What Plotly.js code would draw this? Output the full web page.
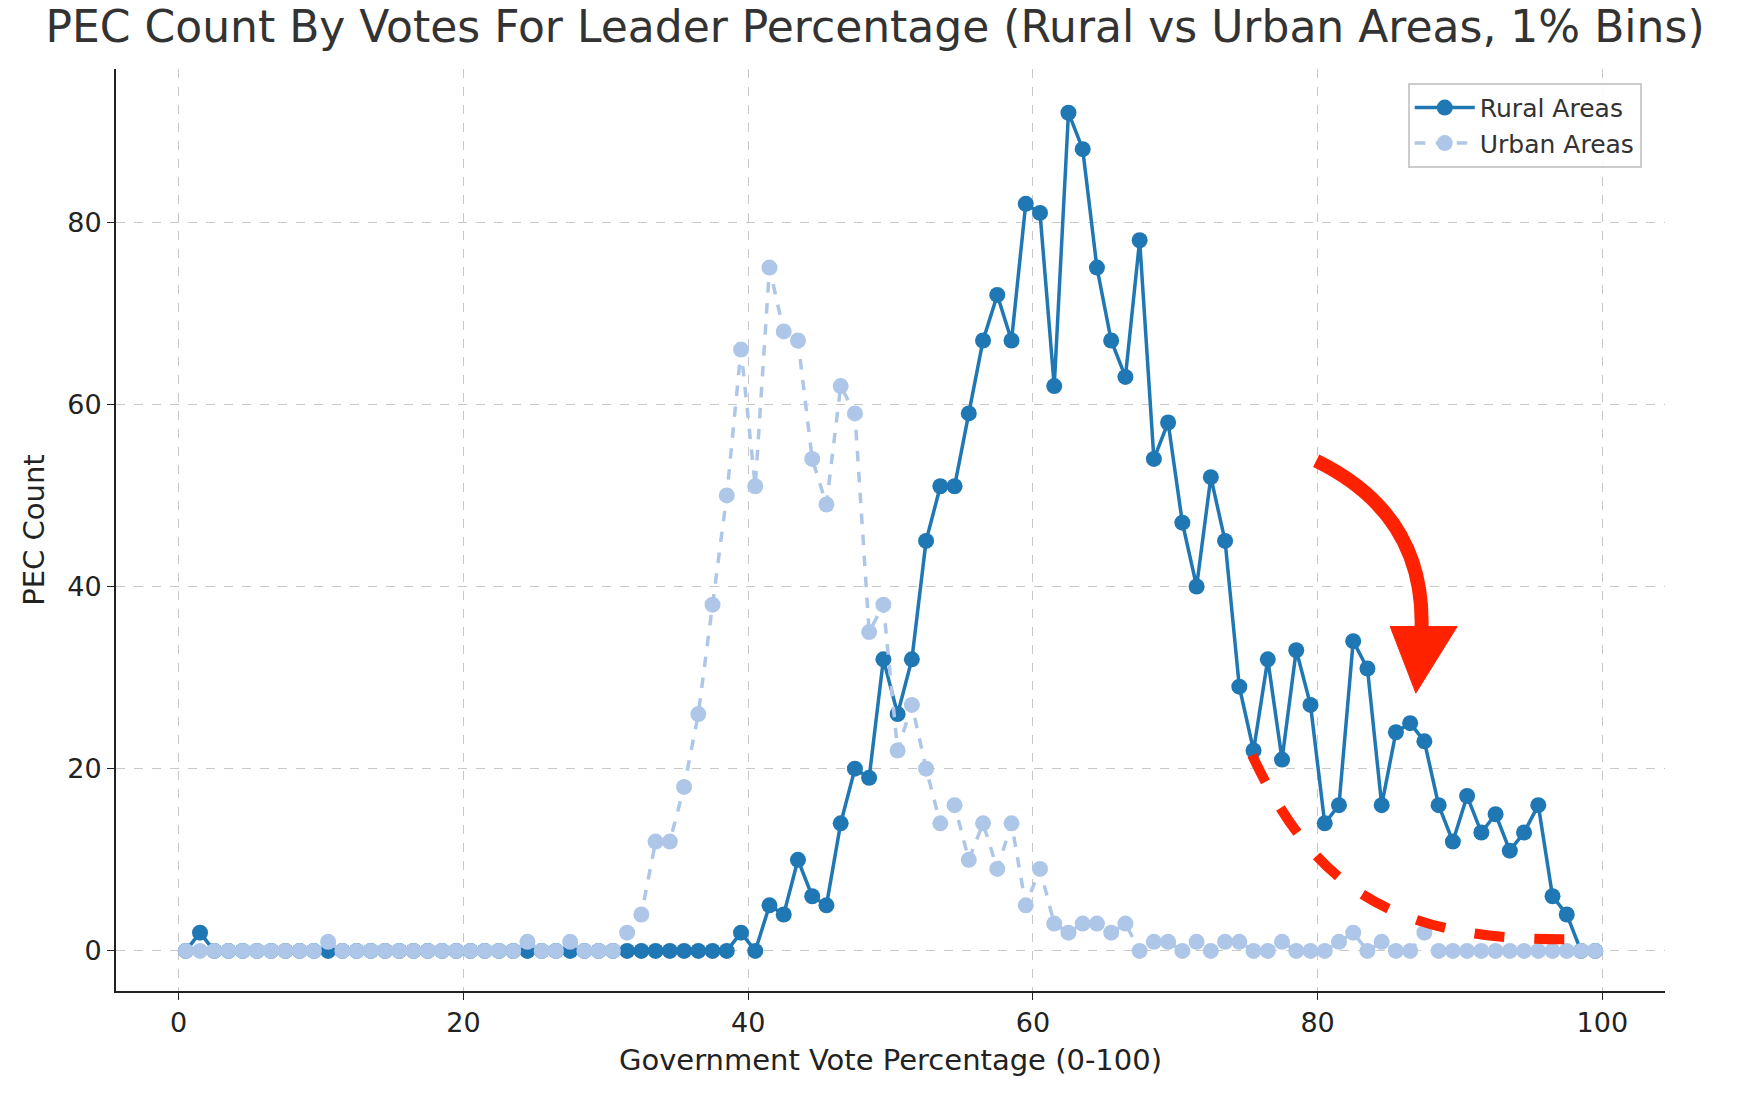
<!DOCTYPE html>
<html>
<head>
<meta charset="utf-8">
<script src="https://cdn.plot.ly/plotly-3.0.1.min.js"></script>
<style>body{margin:0;background:#fff}#chart{width:1750px;height:1101px}</style>
</head>
<body>
<div id="chart"></div>
<script>
// bin centres 0.5 .. 99.5
const bins = Array.from({length: 100}, (_, i) => i + 0.5);

const rural = [
  0,2,0,0,0,0,0,0,0,0, 0,0,0,0,0,0,0,0,0,0,
  0,0,0,0,0,0,0,0,0,0, 0,0,0,0,0,0,0,0,0,2,
  0,5,4,10,6,5,14,20,19,32, 26,32,45,51,51,59,67,72,67,82,
  81,62,92,88,75,67,63,78,54,58, 47,40,52,45,29,22,32,21,33,27,
  14,16,34,31,16,24,25,23,16,12, 17,13,15,11,13,16,6,4,0,0
];
const urban = [
  0,0,0,0,0,0,0,0,0,0, 1,0,0,0,0,0,0,0,0,0,
  0,0,0,0,1,0,0,1,0,0, 0,2,4,12,12,18,26,38,50,66,
  51,75,68,67,54,49,62,59,35,38, 22,27,20,14,16,10,14,9,14,5,
  9,3,2,3,3,2,3,0,1,1, 0,1,0,1,1,0,0,1,0,0,
  0,1,2,0,1,0,0,2,0,0, 0,0,0,0,0,0,0,0,0,0
];

const font = 'DejaVu Sans, sans-serif';

const traces = [
  {
    x: bins, y: rural, name: 'Rural Areas', type: 'scatter', mode: 'lines+markers',
    line: {color: '#1f77b4', width: 3.5}, marker: {color: '#1f77b4', size: 16}
  },
  {
    x: bins, y: urban, name: 'Urban Areas', type: 'scatter', mode: 'lines+markers',
    line: {color: '#aec7e8', width: 3.5, dash: 'dash'}, marker: {color: '#aec7e8', size: 16}
  }
];

const layout = {
  width: 1750, height: 1101,
  margin: {l: 116, r: 85, t: 69, b: 110},
  paper_bgcolor: '#fff', plot_bgcolor: '#fff',
  font: {family: font, color: '#222'},
  title: {
    text: 'PEC Count By Votes For Leader Percentage (Rural vs Urban Areas, 1% Bins)',
    font: {family: font, size: 44, color: '#333'},
    x: 0.5, xanchor: 'center', y: 0.99, yanchor: 'top'
  },
  xaxis: {
    range: [-4.4, 104.4], tickvals: [0, 20, 40, 60, 80, 100],
    showgrid: true, gridcolor: '#c8c8c8', griddash: 'dash', gridwidth: 1,
    zeroline: false, showline: true, linecolor: '#222', linewidth: 2,
    ticks: 'outside', ticklen: 7, tickcolor: '#222',
    tickfont: {size: 27, color: '#222'},
    title: {text: 'Government Vote Percentage (0-100)', font: {size: 29, color: '#222'}, standoff: 12}
  },
  yaxis: {
    range: [-4.4, 96.8], tickvals: [0, 20, 40, 60, 80],
    showgrid: true, gridcolor: '#c8c8c8', griddash: 'dash', gridwidth: 1,
    zeroline: false, showline: true, linecolor: '#222', linewidth: 2,
    ticks: 'outside', ticklen: 7, tickcolor: '#222',
    tickfont: {size: 27, color: '#222'},
    title: {text: 'PEC Count', font: {size: 29, color: '#222'}, standoff: 14}
  },
  legend: {
    x: 0.985, xanchor: 'right', y: 0.985, yanchor: 'top',
    bgcolor: 'rgba(255,255,255,0.9)', bordercolor: '#ccc', borderwidth: 2,
    font: {size: 25, color: '#333'}, itemwidth: 60, tracegroupgap: 8
  },
  shapes: [
    // curved red arrow
    {type: 'path', path: 'M 79.9,53.8 Q 87.5,48 87.3,35.5', line: {color: '#ff2200', width: 14}, layer: 'above'},
    {type: 'path', path: 'M 85.1,35.6 L 89.8,35.6 L 86.9,28.3 Z', fillcolor: '#ff2200', line: {color: '#ff2200', width: 1}, layer: 'above'},
    // dashed red curve
    {type: 'path', path: 'M 75.4,21.5 C 80,6 86,0.8 98.8,1.3', line: {color: '#ff2200', width: 10, dash: 'dash'}, layer: 'above'}
  ]
};

Plotly.newPlot('chart', traces, layout, {displayModeBar: false, staticPlot: true});
</script>
</body>
</html>
